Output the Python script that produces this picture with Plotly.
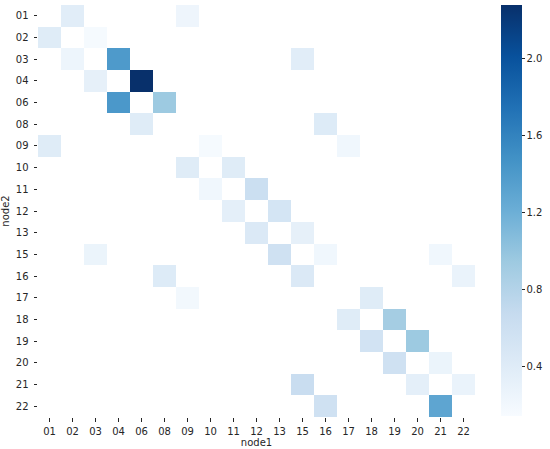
import numpy as np
import plotly.graph_objects as go

# node labels (same set on both axes)
node1 = ["01", "02", "03", "04", "06", "08", "09", "10", "11", "12",
         "13", "15", "16", "17", "18", "19", "20", "21", "22"]
node2 = ["01", "02", "03", "04", "06", "08", "09", "10", "11", "12",
         "13", "15", "16", "17", "18", "19", "20", "21", "22"]

# non-empty cells: (node2, node1, value)
pair_node2 = ["01", "01", "02", "02", "03", "03", "03", "04", "04",
              "06", "06", "08", "08", "09", "09", "09", "10", "10",
              "11", "11", "12", "12", "13", "13", "15", "15", "15", "15",
              "16", "16", "16", "17", "17", "18", "18", "19", "19",
              "20", "20", "21", "21", "21", "22", "22"]
pair_node1 = ["02", "09", "01", "03", "02", "04", "15", "03", "06",
              "04", "08", "06", "16", "01", "10", "17", "09", "11",
              "10", "12", "11", "13", "12", "15", "03", "13", "16", "21",
              "08", "15", "22", "09", "18", "17", "19", "18", "20",
              "19", "21", "15", "20", "22", "16", "21"]
pair_value = [0.38, 0.24, 0.40, 0.17, 0.25, 1.40, 0.38, 0.33, 2.28,
              1.42, 0.95, 0.40, 0.42, 0.40, 0.17, 0.22, 0.40, 0.40,
              0.22, 0.62, 0.35, 0.52, 0.45, 0.33, 0.27, 0.58, 0.22, 0.22,
              0.42, 0.45, 0.28, 0.20, 0.40, 0.40, 0.90, 0.55, 0.95,
              0.58, 0.27, 0.65, 0.35, 0.28, 0.58, 1.30]

cbar_ticks = [0.4, 0.8, 1.2, 1.6, 2.0]

z = np.full((len(node2), len(node1)), np.nan)
for r, c, v in zip(pair_node2, pair_node1, pair_value):
    z[node2.index(r), node1.index(c)] = v

# matplotlib "Blues"
blues = [
    [0.0, "#f7fbff"], [0.125, "#deebf7"], [0.25, "#c6dbef"],
    [0.375, "#9ecae1"], [0.5, "#6baed6"], [0.625, "#4292c6"],
    [0.75, "#2171b5"], [0.875, "#08519c"], [1.0, "#08306b"],
]

font = dict(family="DejaVu Sans", size=10, color="#262626")

fig = go.Figure(go.Heatmap(
    z=z, x=node1, y=node2,
    colorscale=blues, zmin=0.145, zmax=2.28,
    hoverongaps=False,
    colorbar=dict(
        x=1.06, xanchor="left", xpad=0,
        y=1, yanchor="top", ypad=0,
        len=411, lenmode="pixels",
        thickness=21, thicknessmode="pixels",
        outlinewidth=0,
        tickvals=cbar_ticks, ticktext=[f"{t:.1f}" for t in cbar_ticks],
        ticks="outside", ticklen=3, tickcolor="#262626",
        tickfont=font,
    ),
))

fig.update_layout(
    width=550, height=449,
    margin=dict(l=37.5, r=74.5, t=5, b=32),
    paper_bgcolor="white", plot_bgcolor="white",
    font=font,
    xaxis=dict(title=dict(text="node1", standoff=2, font=font),
               type="category", showgrid=False, zeroline=False,
               ticks="outside", ticklen=3.5, tickcolor="#262626",
               ticklabelstandoff=1, automargin=False, tickangle=0),
    yaxis=dict(title=dict(text="node2", standoff=4, font=font),
               type="category", autorange="reversed", showgrid=False,
               zeroline=False, ticks="outside", ticklen=3.5,
               tickcolor="#262626", ticklabelstandoff=3, automargin=False),
)

# drop the browser's default body margin so the figure sits at 0,0
fig.write_html("out.html", config={"displayModeBar": False},
               post_script="document.body.style.margin='0';")
